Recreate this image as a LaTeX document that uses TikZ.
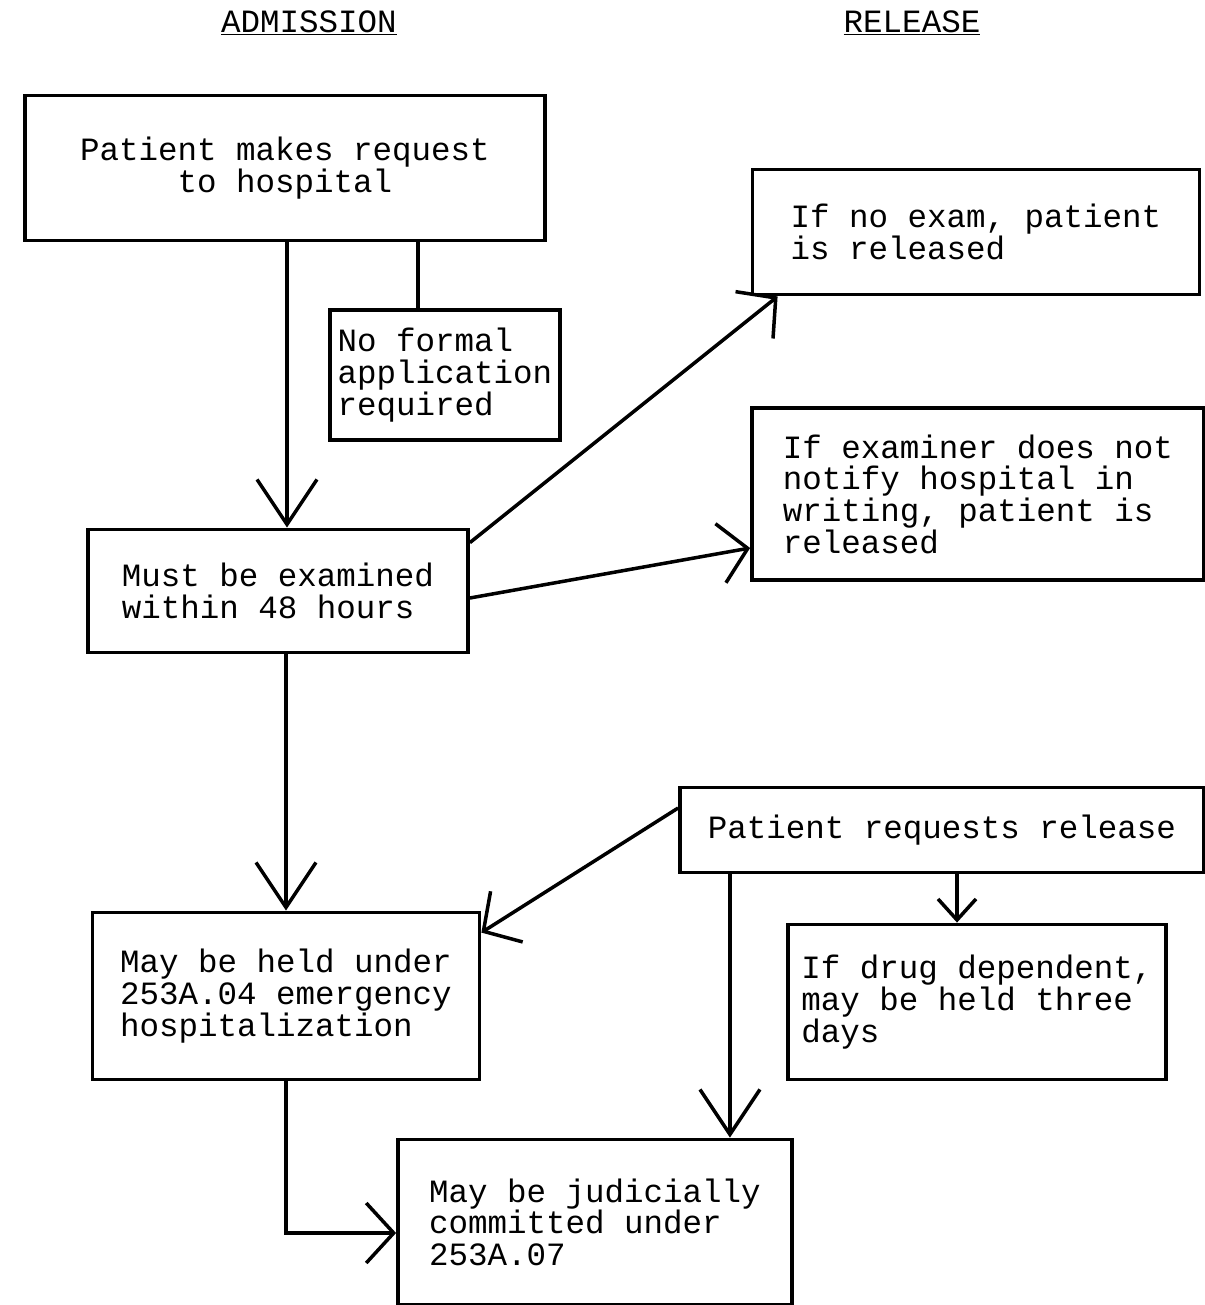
\documentclass[tikz,border=0pt]{standalone}
\usepackage{fontspec}
\setmonofont{Liberation Mono}
\usetikzlibrary{arrows.meta}

\begin{document}
\begin{tikzpicture}[x=0.02cm,y=-0.02cm,line width=2pt,
    every node/.style={font=\ttfamily\fontsize{18.5}{18}\selectfont},
    box/.style={draw,line width=2.2pt,inner sep=2pt,align=left},
    bigbarb/.style={-{Straight Barb[length=0.9cm,width=1.2cm]}},
    barb/.style={-{Straight Barb[length=0.55cm,width=1.2cm]}},
    smallbarb/.style={-{Straight Barb[length=0.42cm,width=0.76cm]}}]
    \useasboundingbox (0,0) rectangle (1204,1305);
    \node[anchor=base] (adm) at (309,32) {\underline{ADMISSION}};
    \node[anchor=base] (rel) at (912,32) {\underline{RELEASE}};
    \node[box,align=center,minimum width=10.4cm,minimum height=2.9cm] (request) at (285,168) {Patient makes request\\to hospital};
    \node[box,minimum width=4.6cm,minimum height=2.6cm] (noform) at (445,375) {No formal\\application\\required};
    \node[box,minimum width=8.94cm,minimum height=2.5cm] (noexam) at (976,232) {If no exam, patient\\is released};
    \node[box,minimum width=9.04cm,minimum height=3.44cm] (notify) at (978,494) {If examiner does not\\notify hospital in\\writing, patient is\\released};
    \node[box,minimum width=7.6cm,minimum height=2.46cm] (examined) at (278,591) {Must be examined\\within 48 hours};
    \node[box,minimum width=10.48cm,minimum height=1.7cm] (relreq) at (942,830) {Patient requests release};
    \node[box,minimum width=7.74cm,minimum height=3.34cm] (held) at (286,996) {May be held under\\253A.04 emergency\\hospitalization};
    \node[box,minimum width=7.56cm,minimum height=3.1cm] (drug) at (977,1002) {If drug dependent,\\may be held three\\days};
    \node[box,minimum width=7.88cm,minimum height=3.3cm] (judicial) at (595,1222) {May be judicially\\committed under\\253A.07};
    \coordinate (ex) at ([xshift=0.18cm]examined.north);
    \draw[bigbarb] (ex |- request.south) -- (ex);
    \coordinate (nf) at ([xshift=-0.54cm]noform.north);
    \draw (nf |- request.south) -- (nf);
    \draw[barb] ([yshift=-0.3cm]examined.north east) -- ([xshift=0.54cm]noexam.south west);
    \draw[barb] ([yshift=-0.14cm]examined.east) -- ([yshift=-1.08cm]notify.west);
    \draw[bigbarb] (examined.south -| held.north) -- (held.north);
    \draw[barb] ([yshift=0.44cm]relreq.west) -- ([yshift=-0.44cm]held.north east);
    \coordinate (dd) at ([xshift=-0.4cm]drug.north);
    \draw[smallbarb] (dd |- relreq.south) -- (dd);
    \coordinate (jc) at ([xshift=2.7cm]judicial.north);
    \draw[bigbarb] (jc |- relreq.south) -- (jc);
    \draw[barb] (held.south) |- ([yshift=-0.22cm]judicial.west);
  \end{tikzpicture}
\end{document}
